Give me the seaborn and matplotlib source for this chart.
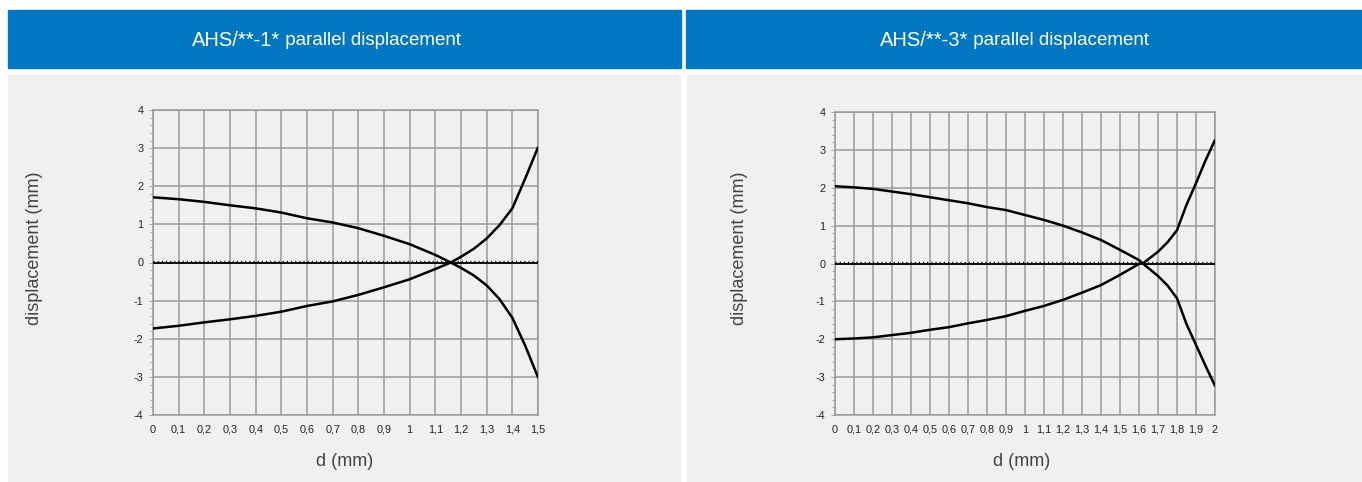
import numpy as np
import pandas as pd
import seaborn as sns
import matplotlib.pyplot as plt
from matplotlib.patches import Rectangle
from matplotlib.ticker import MultipleLocator, FixedLocator, FixedFormatter

# data
d_left = [0, 0.1, 0.2, 0.3, 0.4, 0.5, 0.6, 0.7, 0.8, 0.9, 1.0, 1.1, 1.16, 1.2, 1.25, 1.3, 1.35, 1.4, 1.45, 1.5]
left_upper = [1.71, 1.66, 1.59, 1.50, 1.42, 1.31, 1.16, 1.05, 0.90, 0.70, 0.48, 0.20, 0.0,
              -0.14, -0.34, -0.60, -0.96, -1.45, -2.18, -3.01]
left_lower = [-1.73, -1.66, -1.57, -1.49, -1.40, -1.29, -1.14, -1.02, -0.85, -0.65, -0.44, -0.17, 0.0,
              0.15, 0.36, 0.63, 0.98, 1.42, 2.20, 3.02]

d_right = [0, 0.1, 0.2, 0.3, 0.4, 0.5, 0.6, 0.7, 0.8, 0.9, 1.0, 1.1, 1.2, 1.3, 1.4, 1.5, 1.6, 1.62,
           1.7, 1.75, 1.8, 1.85, 1.9, 1.95, 2.0]
right_upper = [2.04, 2.01, 1.97, 1.90, 1.83, 1.75, 1.67, 1.59, 1.49, 1.41, 1.28, 1.15, 1.00, 0.82, 0.62, 0.36, 0.09, 0.0,
               -0.33, -0.58, -0.92, -1.60, -2.15, -2.70, -3.23]
right_lower = [-2.00, -1.98, -1.95, -1.89, -1.83, -1.75, -1.68, -1.58, -1.49, -1.39, -1.25, -1.12, -0.96, -0.77, -0.57, -0.30, -0.01, 0.0,
               0.31, 0.56, 0.88, 1.55, 2.12, 2.72, 3.26]

left_ticks = [round(i * 0.1, 1) for i in range(16)]
right_ticks = [round(i * 0.1, 1) for i in range(21)]
y_ticks = [-4, -3, -2, -1, 0, 1, 2, 3, 4]

titles = [("AHS/**-1*", " parallel displacement"), ("AHS/**-3*", " parallel displacement")]

BLUE = "#0077c0"
PANEL = "#eff0f2"
GRID = "#9a9a9a"

sns.set_style("white")
plt.rcParams["font.family"] = ["Liberation Sans", "DejaVu Sans"]
plt.rcParams["axes.unicode_minus"] = False

W, H = 1362, 482
fig = plt.figure(figsize=(W / 100, H / 100), dpi=100)
fig.patch.set_facecolor("white")


def px(x0, y0, x1, y1):
    return [x0 / W, 1 - y1 / H, (x1 - x0) / W, (y1 - y0) / H]


def label(v):
    s = ("%g" % v).replace(".", ",")
    return s


# background panels and headers (behind the axes)
for (x0, x1), (hx0, hx1) in [((8, 680), (8, 681)), ((687, 1362), (686, 1362))]:
    fig.patches.append(Rectangle((x0 / W, 0), (x1 - x0) / W, 1 - 75 / H,
                                 transform=fig.transFigure, color=PANEL, zorder=-5))
    fig.patches.append(Rectangle((hx0 / W, 1 - 67.5 / H), (hx1 - hx0) / W, 57.5 / H,
                                 transform=fig.transFigure, color=BLUE, zorder=-5))

split_x = [280, 968]
for (a, b), sx in zip(titles, split_x):
    fig.text(sx / W, 1 - 40.5 / H, a, color="white", fontsize=14.5, ha="right", va="center")
    fig.text(sx / W, 1 - 40.5 / H, b, color="white", fontsize=13.5, ha="left", va="center")

specs = [
    (px(153, 110, 538, 415), d_left, left_upper, left_lower, left_ticks, 1.5, 35, 345),
    (px(835, 112, 1215, 415), d_right, right_upper, right_lower, right_ticks, 2.0, 740, 1022),
]

for rect, d, up, lo, ticks, xmax, ylab_x, xlab_x in specs:
    ax = fig.add_axes(rect)
    ax.set_facecolor(PANEL)
    df = pd.DataFrame({"d": d + d, "y": up + lo,
                       "curve": ["a"] * len(d) + ["b"] * len(d)})
    sns.lineplot(data=df, x="d", y="y", units="curve", estimator=None,
                 color="black", linewidth=1.8, ax=ax, zorder=5, sort=False)
    ax.set_xlim(0, xmax)
    ax.set_ylim(-4, 4)
    ax.xaxis.set_major_locator(FixedLocator(ticks))
    ax.xaxis.set_major_formatter(FixedFormatter([label(t) for t in ticks]))
    ax.yaxis.set_major_locator(FixedLocator(y_ticks))
    ax.yaxis.set_minor_locator(MultipleLocator(0.2))
    ax.grid(True, which="major", color=GRID, linewidth=1.1)
    ax.tick_params(axis="x", which="major", length=0, pad=7, labelsize=7.8, colors="#222")
    ax.tick_params(axis="y", which="major", length=3, width=0.6, color=GRID, pad=4,
                   labelsize=7.8, labelcolor="#222", left=True)
    ax.tick_params(axis="y", which="minor", length=2, width=0.6, color=GRID, left=True)
    for sp in ax.spines.values():
        sp.set_color(GRID)
        sp.set_linewidth(1.1)
    # zero line with dotted tick pattern
    ax.axhline(0, color="black", linewidth=1.3, zorder=4)
    ax.axhline(0.05, color="black", linewidth=1.0, linestyle=(0, (0.8, 2.2)), zorder=4)
    ax.set_xlabel("")
    ax.set_ylabel("")
    fig.text(ylab_x / W, 1 - 248 / H, "displacement (mm)", rotation=90,
             ha="center", va="center", fontsize=13, color="#444")
    fig.text(xlab_x / W, 1 - 462 / H, "d (mm)", ha="center", va="center",
             fontsize=13, color="#444")

fig.savefig("out.png", dpi=100, facecolor=fig.get_facecolor())
